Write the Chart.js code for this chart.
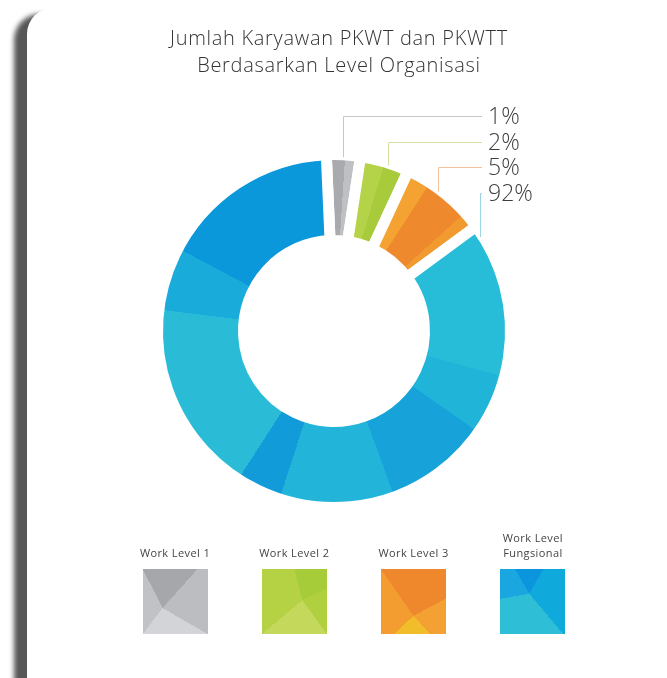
<!DOCTYPE html>
<html>
<head>
<meta charset="utf-8">
<script src="https://cdn.jsdelivr.net/npm/chart.js@4.4.1/dist/chart.umd.min.js"></script>
<style>
    html, body { margin: 0; padding: 0; width: 667px; height: 678px; overflow: hidden; background: #fff; font-family: 'Open Sans', sans-serif; }
    .card { position: absolute; left: 27px; top: 8px; width: 720px; height: 740px; background: #fff; border-top-left-radius: 26px; box-shadow: -13px 6px 5px #575757; }
    #chartBox { position: absolute; left: 0; top: 0; width: 667px; height: 678px; }
    .title { position: absolute; left: 0; top: 24px; width: 678px; text-align: center; font-weight: 300; font-size: 20px; line-height: 27px; color: #333; letter-spacing: 0.7px; }
    .legend { position: absolute; left: 0; top: 520px; width: 667px; height: 130px; }
    .legend-item { position: absolute; top: 0; width: 120px; }
    .legend-item .lbl { height: 40px; width: 84px; margin: 0 auto; display: flex; align-items: flex-end; justify-content: center; text-align: center; font-size: 11px; line-height: 15px; color: #444; letter-spacing: 0.4px; }
    .legend-item .sw { width: 65px; height: 65px; margin: 9px auto 0; }
</style>
</head>
<body>
<div class="card"></div>
<div id="chartBox"><canvas id="donut"></canvas></div>
<div class="title">Jumlah Karyawan PKWT dan PKWTT<br>Berdasarkan Level Organisasi</div>
<div class="legend" id="legend"></div>

<script>
document.addEventListener('DOMContentLoaded', () => {
    const categories = ['Work Level 1', 'Work Level 2', 'Work Level 3', 'Work Level Fungsional'];
    const percentLabels = ['1%', '2%', '5%', '92%'];
    // share of the ring each slice takes in the artwork (it is not drawn to scale)
    const drawnShare = [3.1, 4.5, 8.0, 84.4];

    // facets along each slice: [fraction of the slice, colour]
    const facets = [
        [[0, '#a9aaad'], [0.55, '#bfc0c3']],
        [[0, '#b4d348'], [0.5, '#a7cb3b']],
        [[0, '#f4a232'], [0.28, '#ef892d'], [0.8, '#f19a30']],
        [[0, '#27bcd7'], [0.169, '#20b4d8'], [0.235, '#17a3d9'], [0.35, '#22b5d9'], [0.475, '#119bd8'],
         [0.524, '#2abcd6'], [0.735, '#19acdb'], [0.804, '#0b98db']]
    ];
    const leaderColors = ['#c6c6c6', '#d2e2a6', '#f5c29e', '#9dd6e8'];
    const leaderAt = [0.5, 0.58, 0.41, 0.012];
    const swatches = [
        'conic-gradient(at 30% 60%, #a6a7aa 0 42deg, #bcbdc0 42deg 120deg, #d3d4d8 120deg 217deg, #c1c2c5 217deg 333deg, #a6a7aa 333deg)',
        'conic-gradient(at 62% 48%, #a7cc3a 0 65deg, #b1d03f 65deg 144deg, #c4d95b 144deg 230deg, #b4d244 230deg 346deg, #a7cc3a 346deg)',
        'conic-gradient(at 50% 72%, #ef872c 0 62deg, #f4a133 62deg 138deg, #f2bd2b 138deg 227deg, #f39d31 227deg 325deg, #ef872c 325deg)',
        'conic-gradient(at 45% 38%, #0b95dc 0 30deg, #0fa9dc 30deg 140deg, #2ebfd7 140deg 260deg, #1aa6df 260deg 330deg, #0b95dc 330deg)'
    ];

    const ROTATION = -2.5;
    const BORDER = 11;

    function facetFill(c) {
        const chart = c.chart;
        const area = chart.chartArea;
        const i = c.dataIndex;
        if (!area) return facets[i][0][1];
        const data = chart.data.datasets[0].data;
        const total = data.reduce((a, b) => a + b, 0);
        let before = 0;
        for (let k = 0; k < i; k++) before += data[k];
        const a0 = before / total, a1 = (before + data[i]) / total;
        const cx = (area.left + area.right) / 2, cy = (area.top + area.bottom) / 2;
        const g = chart.ctx.createConicGradient((ROTATION - 90) * Math.PI / 180, cx, cy);
        const f = facets[i];
        f.forEach(([p, col], j) => {
            const from = a0 + p * (a1 - a0);
            const to = a0 + (j + 1 < f.length ? f[j + 1][0] : 1) * (a1 - a0);
            g.addColorStop(Math.max(0, from), col);
            g.addColorStop(Math.min(1, to), col);
        });
        return g;
    }

    const leaders = {
        id: 'leaders',
        afterDatasetsDraw(chart) {
            const ctx = chart.ctx;
            const arcs = chart.getDatasetMeta(0).data;
            ctx.save();
            arcs.forEach((arc, i) => {
                const {x, y, startAngle, endAngle, outerRadius} = arc.getProps(['x', 'y', 'startAngle', 'endAngle', 'outerRadius'], true);
                const ringR = outerRadius - BORDER / 2;
                const a = startAngle + leaderAt[i] * (endAngle - startAngle);
                const px = Math.round(x + Math.cos(a) * (ringR + 3)) + 0.5;
                const py = y + Math.sin(a) * (ringR + 3);
                const rowY = Math.round(y - ringR - 44 + i * 25.7) + 0.5;
                ctx.strokeStyle = leaderColors[i];
                ctx.lineWidth = 1;
                ctx.beginPath();
                ctx.moveTo(px, py);
                ctx.lineTo(px, rowY);
                ctx.lineTo(x + 148, rowY);
                ctx.stroke();
                ctx.fillStyle = '#3d3d3d';
                ctx.font = '300 23px "Open Sans"';
                ctx.textBaseline = 'middle';
                ctx.fillText(percentLabels[i], x + 154, rowY + 1);
            });
            ctx.restore();
        }
    };

    new Chart(document.getElementById('donut').getContext('2d'), {
        type: 'doughnut',
        data: {
            labels: categories,
            datasets: [{
                data: drawnShare,
                backgroundColor: facetFill,
                borderColor: '#ffffff',
                borderWidth: BORDER,
                borderJoinStyle: 'miter',
                hoverOffset: 0
            }]
        },
        options: {
            responsive: true,
            maintainAspectRatio: false,
            animation: false,
            rotation: ROTATION,
            radius: 171 + BORDER / 2,
            cutout: ((96 - BORDER / 2) / (171 + BORDER / 2) * 100) + '%',
            layout: { padding: { left: 1, right: 0, top: 0, bottom: 16 } },
            plugins: { legend: { display: false }, tooltip: { enabled: false }, title: { display: false } }
        },
        plugins: [leaders]
    });

    document.getElementById('legend').innerHTML = categories.map((c, i) => `
        <div class="legend-item" style="left:${175 + i * 119.3 - 60}px">
            <div class="lbl">${c}</div>
            <div class="sw" style="background:${swatches[i]}"></div>
        </div>`).join('');
});
</script>
</body>
</html>
